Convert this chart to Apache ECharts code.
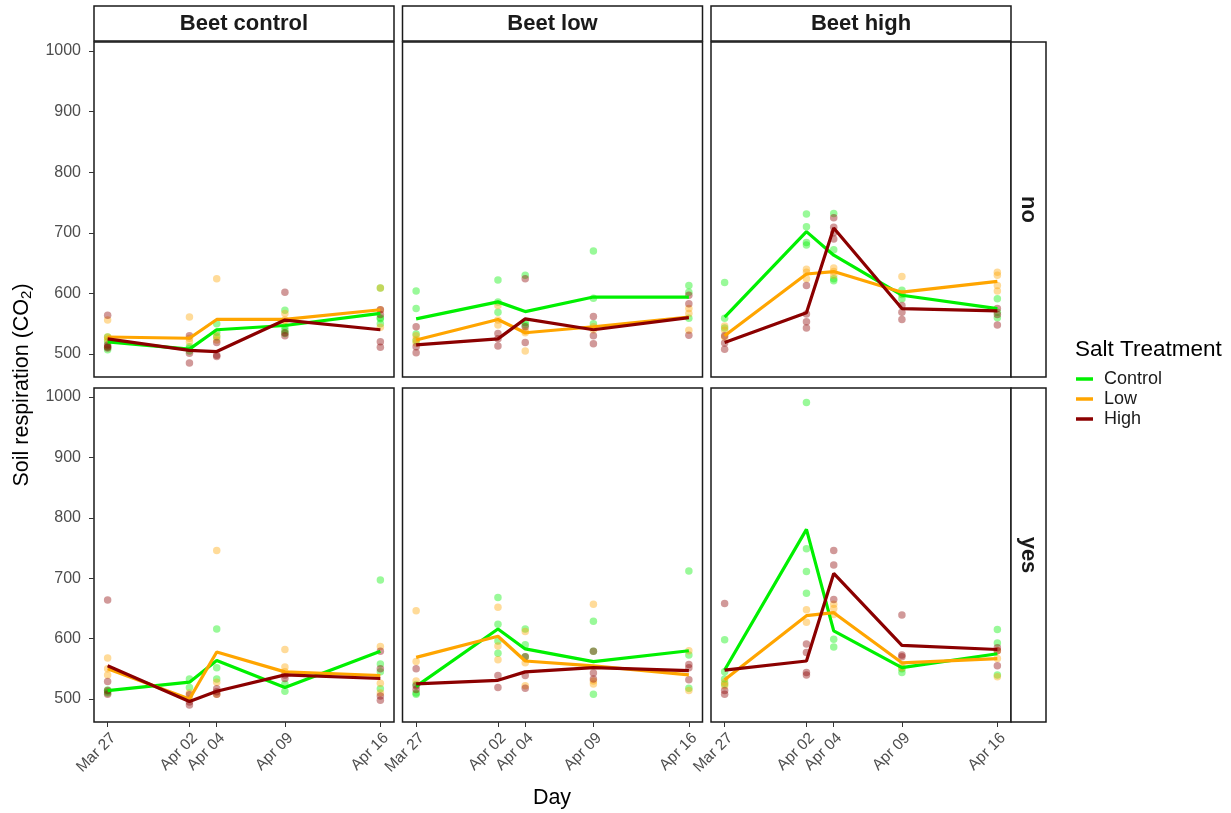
<!DOCTYPE html>
<html>
<head>
<meta charset="utf-8">
<script src="https://cdn.jsdelivr.net/npm/echarts@6/dist/echarts.min.js"></script>
<style>
html,body{margin:0;padding:0;background:#fff;}
#chart{width:1231px;height:813px;}
</style>
</head>
<body>
<div id="chart"></div>
<script>
// ---------- data ----------
const dayLabels = ['Mar 27', 'Apr 02', 'Apr 04', 'Apr 09', 'Apr 16'];
const days = [0, 6, 8, 13, 20]; // days since Mar 27
const treatments = ['Control', 'Low', 'High'];
const beetLevels = ['Beet control', 'Beet low', 'Beet high'];
const rowLevels = ['no', 'yes'];
const yTicks = [500, 600, 700, 800, 900, 1000];

// mean lines: [Control, Low, High], one value per day
const mean_BC_no  = [[520, 508, 540, 547, 567], [528, 526, 557, 557, 573], [525, 506, 504, 556, 540]];
const mean_BL_no  = [[558, 586, 570, 594, 594], [523, 557, 535, 545, 561], [515, 525, 558, 540, 560]];
const mean_BH_no  = [[561, 702, 663, 597, 575], [530, 632, 636, 602, 620], [519, 568, 708, 575, 571]];
const mean_BC_yes = [[514, 528, 564, 519, 579], [550, 500, 578, 545, 539], [555, 496, 513, 540, 534]];
const mean_BL_yes = [[521, 616, 583, 562, 580], [569, 604, 563, 555, 540], [525, 531, 545, 552, 547]];
const mean_BH_yes = [[548, 781, 613, 552, 575], [532, 638, 643, 560, 567], [548, 563, 708, 589, 582]];

// replicate points: per treatment, per day a list of values
const pts_BC_no = [
  [[528, 511, 507, 520], [509, 512, 505], [550, 536, 528], [572, 539, 534, 545], [609, 558, 550, 560]],
  [[556, 528, 524], [561, 526, 520], [624, 523, 530], [567, 556, 552], [609, 573, 544]],
  [[564, 512, 515, 510], [530, 501, 485], [519, 498, 496], [602, 530, 535], [573, 565, 520, 511]]
];
const pts_BL_no = [
  [[604, 575, 533, 522], [622, 569, 586], [630, 548, 552], [670, 592, 550], [613, 602, 559]],
  [[530, 524, 518], [580, 556, 548], [538, 535, 505], [545, 540], [575, 567, 539]],
  [[545, 512, 502], [534, 525, 513], [624, 545, 519], [562, 530, 517], [597, 583, 531]]
];
const pts_BH_no = [
  [[618, 559, 543], [731, 710, 684, 680], [732, 672, 624, 621], [605, 598, 591], [591, 569, 560]],
  [[546, 539, 528], [640, 635, 624], [642, 636, 630], [628, 600], [635, 630, 613, 604]],
  [[530, 518, 508], [613, 566, 553, 543], [725, 709, 690, 700], [580, 569, 557], [575, 565, 548]]
];
const pts_BC_yes = [
  [[512, 515, 510], [533, 519], [616, 552, 533], [525, 513], [697, 558, 545, 517]],
  [[568, 550, 540], [510, 500], [746, 528, 508], [582, 553, 545], [587, 526, 510]],
  [[664, 529, 508, 514], [507, 490, 495], [517, 508, 512], [534, 540], [579, 550, 498, 505]]
];
const pts_BL_yes = [
  [[524, 510, 508], [668, 624, 596, 576], [616, 590, 570], [629, 579, 508], [712, 573, 518]],
  [[646, 562, 530], [652, 588, 565], [612, 560, 522], [657, 530, 525], [580, 514]],
  [[550, 522, 516], [539, 519], [570, 539, 518], [579, 543, 533], [557, 552, 532]]
];
const pts_BH_yes = [
  [[598, 545, 533, 525], [991, 749, 711, 675], [599, 586], [550, 544], [615, 593, 540]],
  [[528, 522], [648, 627], [657, 650, 640], [555, 552], [580, 567, 537]],
  [[658, 514, 508], [591, 577, 544, 540], [746, 722, 665], [639, 573, 570], [585, 580, 555]]
];

// ---------- build ----------
const panelMeans = [mean_BC_no, mean_BL_no, mean_BH_no, mean_BC_yes, mean_BL_yes, mean_BH_yes];
const panelPts = [pts_BC_no, pts_BL_no, pts_BH_no, pts_BC_yes, pts_BL_yes, pts_BH_yes];
const colors = ['#00f000', '#ffa500', '#8b0000'];
const FONT = "'Liberation Sans', Arial, Helvetica, sans-serif";

const colLeft = [94, 402.5, 711];
const colW = 300;
const rowTop = [42, 388];
const rowH = [335, 334];
const yMin = 462, yMax = 1015;

const grids = [], xAxes = [], yAxes = [], series = [];
for (let p = 0; p < 6; p++) {
  const r = Math.floor(p / 3), c = p % 3;
  grids.push({
    left: colLeft[c], top: rowTop[r], width: colW, height: rowH[r],
    show: true, borderColor: '#1a1a1a', borderWidth: 1.5, backgroundColor: '#fff'
  });
  xAxes.push({
    type: 'value', gridIndex: p, min: -1, max: 21,
    axisLine: {show: false, onZero: false},
    splitLine: {show: false},
    axisTick: {show: r === 1, customValues: days, length: 5, lineStyle: {color: '#333', width: 1}},
    axisLabel: {
      show: r === 1, customValues: days, rotate: 45, margin: 8,
      align: 'right', verticalAlign: 'top',
      color: '#4d4d4d', fontSize: 15.5, fontFamily: FONT,
      formatter: function (v) { const i = days.indexOf(v); return i >= 0 ? dayLabels[i] : ''; }
    }
  });
  yAxes.push({
    type: 'value', gridIndex: p, min: yMin, max: yMax,
    axisLine: {show: false, onZero: false},
    splitLine: {show: false},
    axisTick: {show: c === 0, customValues: yTicks, length: 5, lineStyle: {color: '#333', width: 1}},
    axisLabel: {
      show: c === 0, customValues: yTicks, margin: 13,
      color: '#4d4d4d', fontSize: 16, fontFamily: FONT,
      formatter: function (v) { return yTicks.indexOf(v) >= 0 ? String(v) : ''; }
    }
  });
  for (let t = 0; t < 3; t++) {
    const pts = [];
    panelPts[p][t].forEach(function (vals, i) {
      vals.forEach(function (v) { pts.push([days[i], v]); });
    });
    series.push({
      type: 'scatter', name: treatments[t], xAxisIndex: p, yAxisIndex: p,
      data: pts, symbolSize: 7.5, z: 2, silent: true,
      itemStyle: {color: colors[t], opacity: 0.4}
    });
  }
  for (let t = 0; t < 3; t++) {
    series.push({
      type: 'line', name: treatments[t], xAxisIndex: p, yAxisIndex: p,
      data: days.map(function (d, i) { return [d, panelMeans[p][t][i]]; }),
      symbol: 'none', z: 3, silent: true,
      lineStyle: {color: colors[t], width: 3.2}, itemStyle: {color: colors[t]}
    });
  }
}

// strips and titles
const graphics = [];
for (let c = 0; c < 3; c++) {
  graphics.push({
    type: 'rect', shape: {x: colLeft[c], y: 6, width: colW, height: 35},
    style: {fill: '#fff', stroke: '#1a1a1a', lineWidth: 1.5}
  });
  graphics.push({
    type: 'text', x: colLeft[c] + colW / 2, y: 24,
    style: {text: beetLevels[c], fontSize: 22, fontWeight: 'bold', fontFamily: FONT, fill: '#1a1a1a', align: 'center', verticalAlign: 'middle'}
  });
}
for (let r = 0; r < 2; r++) {
  graphics.push({
    type: 'rect', shape: {x: 1011, y: rowTop[r], width: 35, height: rowH[r]},
    style: {fill: '#fff', stroke: '#1a1a1a', lineWidth: 1.5}
  });
  graphics.push({
    type: 'text', x: 1028.5, y: rowTop[r] + rowH[r] / 2, rotation: -Math.PI / 2,
    style: {text: rowLevels[r], fontSize: 22, fontWeight: 'bold', fontFamily: FONT, fill: '#1a1a1a', align: 'center', verticalAlign: 'middle'}
  });
}
graphics.push({
  type: 'text', x: 22, y: 385, rotation: Math.PI / 2,
  style: {
    text: '{a|Soil respiration (CO}{b|2}{a|)}', align: 'center', verticalAlign: 'middle',
    rich: {
      a: {fontSize: 21.5, fontFamily: FONT, fill: '#000'},
      b: {fontSize: 15, fontFamily: FONT, fill: '#000', verticalAlign: 'bottom', padding: [9, 0, 0, 0]}
    }
  }
});
graphics.push({
  type: 'text', x: 552, y: 798,
  style: {text: 'Day', fontSize: 21.5, fontFamily: FONT, fill: '#000', align: 'center', verticalAlign: 'middle'}
});
graphics.push({
  type: 'text', x: 1075, y: 350,
  style: {text: 'Salt Treatment', fontSize: 22.5, fontFamily: FONT, fill: '#000', align: 'left', verticalAlign: 'middle'}
});

const chart = echarts.init(document.getElementById('chart'), null, {renderer: 'canvas'});
chart.setOption({
  animation: false,
  backgroundColor: '#fff',
  grid: grids,
  xAxis: xAxes,
  yAxis: yAxes,
  series: series,
  graphic: graphics,
  legend: {
    orient: 'vertical', left: 1076, top: 369, itemGap: 0, padding: 0,
    itemWidth: 17, itemHeight: 3.5, selectedMode: false,
    data: treatments.map(function (t, i) { return {name: t, icon: 'rect', itemStyle: {color: colors[i], opacity: 1}}; }),
    textStyle: {fontSize: 18, lineHeight: 20, fontFamily: FONT, color: '#1a1a1a', padding: [0, 0, 0, 6]}
  }
});
</script>
</body>
</html>
